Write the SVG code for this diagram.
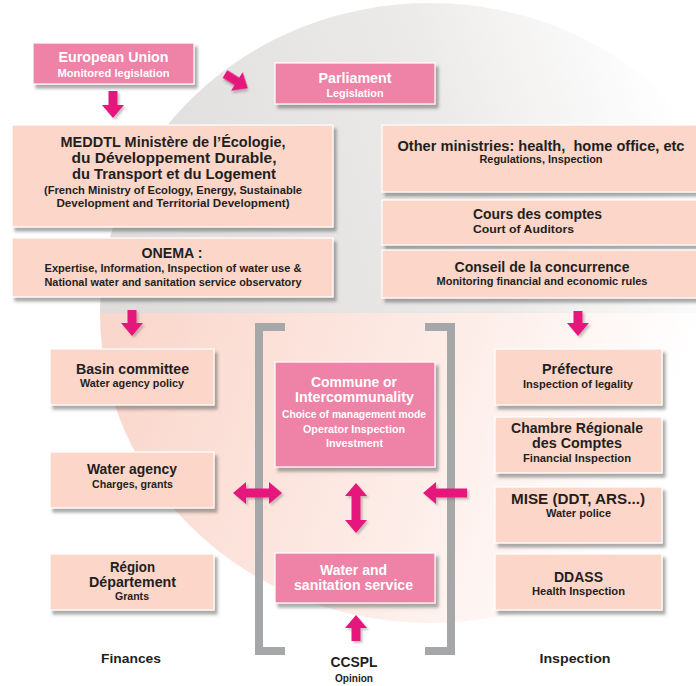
<svg xmlns="http://www.w3.org/2000/svg" width="696" height="686" viewBox="0 0 696 686">
<defs>
<style>
text{font-family:"Liberation Sans",Arial,sans-serif;font-weight:bold;text-anchor:middle}
.t{font-size:14px;fill:#231f20}
.s{font-size:10.5px;fill:#231f20}
.tw{font-size:14px;fill:#ffffff}
.sw{font-size:10.5px;fill:#ffffff}
.lt{fill:#fcd6c9;stroke:#ffffff;stroke-width:1.2;filter:url(#sh)}
.dk{fill:#ee82a7;stroke:#ffffff;stroke-width:1.2;filter:url(#sh)}
.ar{fill:#e5177b;filter:url(#sha)}
.br{fill:none;stroke:#a6a7a9;stroke-width:8}
.lbl{font-size:13.5px;fill:#231f20}
</style>
<filter id="sh" x="-10%" y="-20%" width="130%" height="150%">
<feDropShadow dx="3" dy="4" stdDeviation="1.6" flood-color="#555" flood-opacity="0.5"/>
</filter>
<filter id="sha" x="-30%" y="-30%" width="160%" height="160%">
<feDropShadow dx="2" dy="2" stdDeviation="1.2" flood-color="#555" flood-opacity="0.35"/>
</filter>
<clipPath id="cl"><ellipse cx="430" cy="313" rx="330" ry="310"/></clipPath>
<linearGradient id="gg" gradientUnits="userSpaceOnUse" x1="120" y1="250" x2="660" y2="60">
<stop offset="0" stop-color="#dfdddb"/><stop offset="0.6" stop-color="#eceae9"/><stop offset="1" stop-color="#ffffff"/>
</linearGradient>
<linearGradient id="pg" gradientUnits="userSpaceOnUse" x1="110" y1="380" x2="620" y2="560">
<stop offset="0" stop-color="#fad7cc"/><stop offset="0.6" stop-color="#fdede8"/><stop offset="1" stop-color="#ffffff"/>
</linearGradient>
</defs>
<rect width="696" height="686" fill="#ffffff"/>
<g id="background" clip-path="url(#cl)">
<rect x="0" y="0" width="696" height="313" fill="url(#gg)"/>
<rect x="0" y="313" width="696" height="373" fill="url(#pg)"/>
</g>
<g id="brackets">
<path class="br" d="M285,327 H259 V651 H285"/>
<path class="br" d="M425,327 H451 V651 H425"/>
</g>
<g id="connectors">
<path class="ar" d="M108.5,91 H117.5 V105 H124 L113,118 L102,105 H108.5 Z"/>
<path class="ar" d="M0,-4.5 H14 V-11 L27,0 L14,11 V4.5 H0 Z" transform="translate(225,74) rotate(32)"/>
<path class="ar" d="M127.5,310 H136.5 V323 H143 L132,336 L121,323 H127.5 Z"/>
<path class="ar" d="M573.5,311 H582.5 V323 H589 L578,336 L567,323 H573.5 Z"/>
<path class="ar" d="M233,493 L246,482 V488.5 H269 V482 L282,493 L269,504 V497.5 H246 V504 Z"/>
<path class="ar" d="M356,483 L367,496 H360.5 V520 H367 L356,533 L345,520 H351.5 V496 H345 Z"/>
<path class="ar" d="M423,493 L436,482 V488.5 H467 V497.5 H436 V504 Z"/>
<path class="ar" d="M351.5,641 H360.5 V628 H367 L356,615 L345,628 H351.5 Z"/>
</g>
<g id="eu">
<rect class="dk" x="33" y="43" width="161" height="41"/>
<text class="tw" x="113.5" y="62" textLength="110" lengthAdjust="spacingAndGlyphs">European Union</text>
<text class="sw" x="113.5" y="76.5" textLength="112" lengthAdjust="spacingAndGlyphs">Monitored legislation</text>
</g>
<g id="parliament">
<rect class="dk" x="275" y="63" width="160" height="41"/>
<text class="tw" x="355" y="83" textLength="73" lengthAdjust="spacingAndGlyphs">Parliament</text>
<text class="sw" x="355" y="97" textLength="57" lengthAdjust="spacingAndGlyphs">Legislation</text>
</g>
<g id="meddtl">
<rect class="lt" x="12" y="125" width="321" height="102"/>
<text class="t" x="173" y="147" textLength="225" lengthAdjust="spacingAndGlyphs">MEDDTL Ministère de l’Écologie,</text>
<text class="t" x="174" y="163" textLength="205" lengthAdjust="spacingAndGlyphs">du Développement Durable,</text>
<text class="t" x="174" y="179" textLength="204" lengthAdjust="spacingAndGlyphs">du Transport et du Logement</text>
<text class="s" x="173" y="194" textLength="258" lengthAdjust="spacingAndGlyphs">(French Ministry of Ecology, Energy, Sustainable</text>
<text class="s" x="173" y="207" textLength="233" lengthAdjust="spacingAndGlyphs">Development and Territorial Development)</text>
</g>
<g id="onema">
<rect class="lt" x="12" y="238" width="321" height="59"/>
<text class="t" x="172" y="258" textLength="61" lengthAdjust="spacingAndGlyphs">ONEMA :</text>
<text class="s" x="173" y="272" textLength="257" lengthAdjust="spacingAndGlyphs">Expertise, Information, Inspection of water use &amp;</text>
<text class="s" x="173" y="286" textLength="257" lengthAdjust="spacingAndGlyphs">National water and sanitation service observatory</text>
</g>
<g id="other-ministries">
<rect class="lt" x="382" y="125" width="320" height="67"/>
<text class="t" x="541" y="151" textLength="287" lengthAdjust="spacingAndGlyphs" xml:space="preserve">Other ministries: health,  home office, etc</text>
<text class="s" x="541" y="163" textLength="123" lengthAdjust="spacingAndGlyphs">Regulations, Inspection</text>
</g>
<g id="cours-des-comptes">
<rect class="lt" x="382" y="200" width="320" height="45"/>
<text class="t" x="537.5" y="219" textLength="129" lengthAdjust="spacingAndGlyphs">Cours des comptes</text>
<text class="s" x="523.5" y="233" textLength="101" lengthAdjust="spacingAndGlyphs">Court of Auditors</text>
</g>
<g id="conseil">
<rect class="lt" x="382" y="250" width="320" height="48"/>
<text class="t" x="542" y="272" textLength="175" lengthAdjust="spacingAndGlyphs">Conseil de la concurrence</text>
<text class="s" x="542" y="285" textLength="211" lengthAdjust="spacingAndGlyphs">Monitoring financial and economic rules</text>
</g>
<g id="basin-committee">
<rect class="lt" x="50" y="349" width="164" height="56"/>
<text class="t" x="132.5" y="374" textLength="113" lengthAdjust="spacingAndGlyphs">Basin committee</text>
<text class="s" x="132" y="387" textLength="104" lengthAdjust="spacingAndGlyphs">Water agency policy</text>
</g>
<g id="water-agency">
<rect class="lt" x="50" y="452" width="164" height="56"/>
<text class="t" x="132" y="474" textLength="90" lengthAdjust="spacingAndGlyphs">Water agency</text>
<text class="s" x="132.5" y="488" textLength="81" lengthAdjust="spacingAndGlyphs">Charges, grants</text>
</g>
<g id="region">
<rect class="lt" x="50" y="554" width="164" height="56"/>
<text class="t" x="132.5" y="572" textLength="45" lengthAdjust="spacingAndGlyphs">Région</text>
<text class="t" x="132.5" y="587" textLength="87" lengthAdjust="spacingAndGlyphs">Département</text>
<text class="s" x="132" y="600" textLength="34" lengthAdjust="spacingAndGlyphs">Grants</text>
</g>
<g id="commune">
<rect class="dk" x="275" y="362" width="160" height="105"/>
<text class="tw" x="354" y="387" textLength="86" lengthAdjust="spacingAndGlyphs">Commune or</text>
<text class="tw" x="354.5" y="402" textLength="119" lengthAdjust="spacingAndGlyphs">Intercommunality</text>
<text class="sw" x="354" y="418" textLength="144" lengthAdjust="spacingAndGlyphs">Choice of management mode</text>
<text class="sw" x="354" y="433" textLength="102" lengthAdjust="spacingAndGlyphs">Operator Inspection</text>
<text class="sw" x="354.5" y="447" textLength="57" lengthAdjust="spacingAndGlyphs">Investment</text>
</g>
<g id="water-sanitation">
<rect class="dk" x="275" y="553" width="160" height="50"/>
<text class="tw" x="353.5" y="575" textLength="67" lengthAdjust="spacingAndGlyphs">Water and</text>
<text class="tw" x="353.5" y="590" textLength="119" lengthAdjust="spacingAndGlyphs">sanitation service</text>
</g>
<g id="prefecture">
<rect class="lt" x="495" y="349" width="167" height="56"/>
<text class="t" x="577.5" y="374" textLength="71" lengthAdjust="spacingAndGlyphs">Préfecture</text>
<text class="s" x="578" y="388" textLength="110" lengthAdjust="spacingAndGlyphs">Inspection of legality</text>
</g>
<g id="chambre">
<rect class="lt" x="495" y="417" width="167" height="56"/>
<text class="t" x="577" y="433" textLength="132" lengthAdjust="spacingAndGlyphs">Chambre Régionale</text>
<text class="t" x="577" y="448" textLength="90" lengthAdjust="spacingAndGlyphs">des Comptes</text>
<text class="s" x="577" y="462" textLength="108" lengthAdjust="spacingAndGlyphs">Financial Inspection</text>
</g>
<g id="mise">
<rect class="lt" x="495" y="487" width="167" height="56"/>
<text class="t" x="578" y="504" textLength="134" lengthAdjust="spacingAndGlyphs">MISE (DDT, ARS...)</text>
<text class="s" x="578.5" y="517" textLength="65" lengthAdjust="spacingAndGlyphs">Water police</text>
</g>
<g id="ddass">
<rect class="lt" x="495" y="554" width="167" height="56"/>
<text class="t" x="578.5" y="582" textLength="49" lengthAdjust="spacingAndGlyphs">DDASS</text>
<text class="s" x="578.5" y="595" textLength="93" lengthAdjust="spacingAndGlyphs">Health Inspection</text>
</g>
<g id="finances">
<text class="lbl" x="131" y="663" textLength="60" lengthAdjust="spacingAndGlyphs">Finances</text>
</g>
<g id="ccspl">
<text class="t" x="354" y="667" textLength="47" lengthAdjust="spacingAndGlyphs">CCSPL</text>
<text class="s" x="354" y="682" textLength="38" lengthAdjust="spacingAndGlyphs">Opinion</text>
</g>
<g id="inspection">
<text class="lbl" x="575" y="663" textLength="71" lengthAdjust="spacingAndGlyphs">Inspection</text>
</g>
</svg>
